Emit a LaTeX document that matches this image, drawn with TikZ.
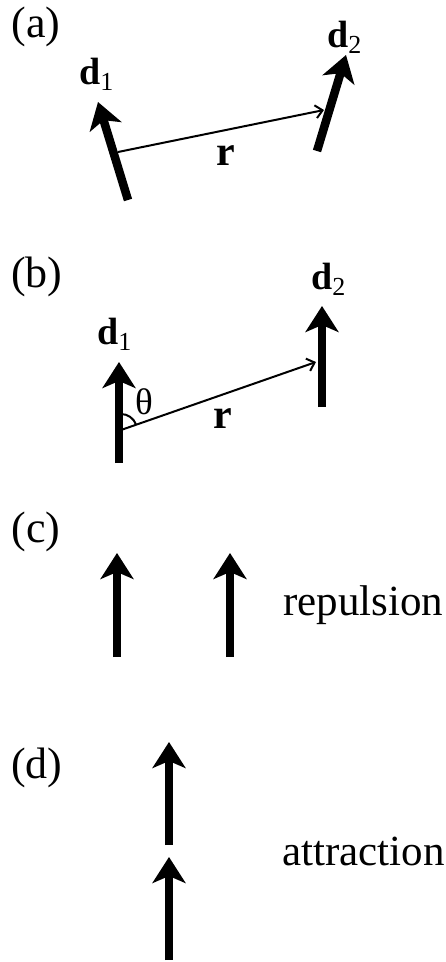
\documentclass[tikz,border=0pt]{standalone}
\usepackage{fontspec}
\setmainfont{Liberation Serif}
\usetikzlibrary{arrows.meta}
\newcommand\dlab[1]{\fontsize{38}{42}\selectfont\bfseries d\raisebox{-6pt}{\fontsize{26}{30}\selectfont\mdseries #1}}
\tikzset{
  dipole/.style={line width=8.5pt, -{Stealth[length=26pt,width=33pt,inset=7pt]}},
  rvec/.style={line width=2pt, -{Straight Barb[length=7pt,width=13pt,line width=2pt]}},
  panel/.style={inner sep=0pt, font=\fontsize{44}{48}\selectfont},
  word/.style={inner sep=0pt, anchor=base west, font=\fontsize{43}{48}\selectfont},
  dname/.style={inner sep=0pt, anchor=base west},
  rname/.style={inner sep=0pt, anchor=base west, font=\fontsize{42}{46}\selectfont\bfseries},
}
\begin{document}
\begin{tikzpicture}[x=1pt,y=-1pt]
\useasboundingbox (0,0) rectangle (445,962);
% (a)
\node[panel] (la) at (36,27) {(a)};
\coordinate (a1t) at (128,200);
\coordinate (a1h) at (98,102);
\coordinate (a2t) at (317,151);
\coordinate (a2h) at (346,55);
\draw[dipole] (a1t) -- (a1h);
\draw[dipole] (a2t) -- (a2h);
\coordinate (ar0) at (118,152);
\coordinate (ar1) at (324,110);
\draw[rvec] (ar0) -- (ar1);
\node[dname] (ad1) at (79,84) {\dlab{1}};
\node[dname] (ad2) at (327,47) {\dlab{2}};
\node[rname] (arl) at (216,165) {r};
% (b)
\node[panel] (lb) at (37,277) {(b)};
\coordinate (b1t) at (119,463);
\coordinate (b1h) at (119,362);
\coordinate (b2t) at (322,407);
\coordinate (b2h) at (322,306);
\draw[dipole] (b1t) -- (b1h);
\draw[dipole] (b2t) -- (b2h);
\coordinate (br0) at (121,430);
\coordinate (br1) at (316,362);
\draw[rvec] (br0) -- (br1);
\draw[line width=2pt] (br0) ++(-19.2:16) arc[start angle=-19.2, end angle=-90, radius=16];
\node[inner sep=0pt, font=\fontsize{37}{40}\selectfont] (bth) at (144,402) {θ};
\node[dname] (bd1) at (97,344) {\dlab{1}};
\node[dname] (bd2) at (311,289) {\dlab{2}};
\node[rname] (brl) at (213,428) {r};
% (c)
\node[panel] (lc) at (36,532) {(c)};
\coordinate (c1t) at (117,657);
\coordinate (c1h) at (117,553);
\coordinate (c2t) at (230,657);
\coordinate (c2h) at (230,553);
\draw[dipole] (c1t) -- (c1h);
\draw[dipole] (c2t) -- (c2h);
\node[word] (rep) at (283,615) {repulsion};
% (d)
\node[panel] (ld) at (37,768) {(d)};
\coordinate (d1t) at (169,845);
\coordinate (d1h) at (169,742);
\coordinate (d2t) at (169,960);
\coordinate (d2h) at (169,857);
\draw[dipole] (d1t) -- (d1h);
\draw[dipole] (d2t) -- (d2h);
\node[word] (att) at (282,865) {attraction};
\end{tikzpicture}
\end{document}
